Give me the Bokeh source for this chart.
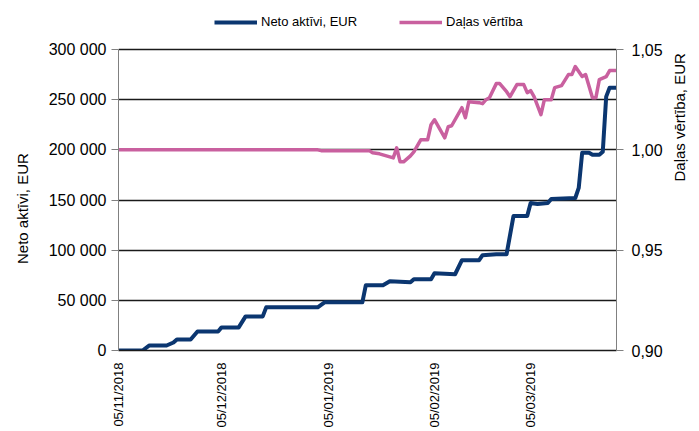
import math
import pandas as pd
from bokeh.plotting import figure
from bokeh.models import (Range1d, LinearAxis, FixedTicker, CustomJSTickFormatter,
                          DatetimeTickFormatter, Legend, LegendItem, ColumnDataSource)
from bokeh.embed import file_html
from bokeh.resources import INLINE

# ---- data ----
nav_dates = ["2018-11-05", "2018-11-12", "2018-11-14", "2018-11-19", "2018-11-21", "2018-11-22",
             "2018-11-26", "2018-11-28", "2018-12-04", "2018-12-05", "2018-12-10", "2018-12-12",
             "2018-12-17", "2018-12-18", "2019-01-02", "2019-01-04", "2019-01-15", "2019-01-16",
             "2019-01-21", "2019-01-23", "2019-01-29", "2019-01-30", "2019-02-04", "2019-02-05",
             "2019-02-11", "2019-02-13", "2019-02-18", "2019-02-19", "2019-02-23", "2019-02-26",
             "2019-02-28", "2019-03-04", "2019-03-05", "2019-03-07", "2019-03-10", "2019-03-11",
             "2019-03-18", "2019-03-19", "2019-03-20", "2019-03-22", "2019-03-23", "2019-03-25",
             "2019-03-26", "2019-03-27", "2019-03-28", "2019-03-30"]
net_assets = [0, 0, 5000, 5000, 8000, 11000,
              11000, 19000, 19000, 23000, 23000, 34000,
              34000, 43000, 43000, 48000, 48000, 65000,
              65000, 69000, 68000, 71000, 71000, 77000,
              76000, 90000, 90000, 95000, 96000, 96000,
              134000, 134000, 147000, 146000, 147000, 151000,
              152000, 162000, 197000, 197000, 195000, 195000,
              198000, 253000, 262000, 262000]

unit_dates = ["2018-11-05", "2019-01-02", "2019-01-03", "2019-01-17", "2019-01-18", "2019-01-20",
              "2019-01-22", "2019-01-24", "2019-01-25", "2019-01-26", "2019-01-27", "2019-01-29",
              "2019-01-30", "2019-02-01", "2019-02-03", "2019-02-04", "2019-02-05", "2019-02-08",
              "2019-02-09", "2019-02-10", "2019-02-13", "2019-02-14", "2019-02-15", "2019-02-18",
              "2019-02-19", "2019-02-20", "2019-02-21", "2019-02-23", "2019-02-24", "2019-02-26",
              "2019-02-27", "2019-03-01", "2019-03-03", "2019-03-04", "2019-03-05", "2019-03-06",
              "2019-03-08", "2019-03-09", "2019-03-11", "2019-03-12", "2019-03-14", "2019-03-16",
              "2019-03-17", "2019-03-18", "2019-03-20", "2019-03-21", "2019-03-23", "2019-03-24",
              "2019-03-25", "2019-03-27", "2019-03-28", "2019-03-30"]
unit_value = [1.000, 1.000, 0.9996, 0.9996, 0.9985, 0.998,
              0.997, 0.996, 1.001, 0.994, 0.994, 0.997,
              0.999, 1.005, 1.005, 1.0125, 1.015, 1.006,
              1.0115, 1.012, 1.021, 1.016, 1.024, 1.0235,
              1.023, 1.025, 1.026, 1.033, 1.033, 1.029,
              1.0265, 1.0325, 1.0325, 1.0285, 1.0295, 1.0265,
              1.0175, 1.025, 1.025, 1.031, 1.032, 1.0375,
              1.0375, 1.0415, 1.0365, 1.0375, 1.026, 1.026,
              1.035, 1.0365, 1.0395, 1.0395]

x_tick_dates = ["2018-11-05", "2018-12-05", "2019-01-05", "2019-02-05", "2019-03-05"]
left_ticks = [0, 50000, 100000, 150000, 200000, 250000, 300000]
right_ticks = [0.90, 0.95, 1.00, 1.05]

series_names = ["Neto aktīvi, EUR", "Daļas vērtība"]
left_title = "Neto aktīvi, EUR"
right_title = "Daļas vērtība, EUR"

# ---- style / layout ----
FONT = "Liberation Sans"
BLUE = "#0B3670"
PINK = "#C9609F"
W, H = 699, 431
TOP = 12           # frame top (legend lives inside the frame's headroom)
AX_TOP = 49        # where the 300 000 / 1,05 line sits
BOTTOM = 350       # frame bottom
head = (BOTTOM - TOP) / (BOTTOM - AX_TOP)   # headroom factor above top tick
NB = "\u00a0"      # trailing no-break spaces shift the left axis title down to the plot's centre

src1 = ColumnDataSource(dict(x=pd.to_datetime(nav_dates), y=net_assets))
src2 = ColumnDataSource(dict(x=pd.to_datetime(unit_dates), y=unit_value))

p = figure(width=W, height=H, x_axis_type="datetime",
           x_range=Range1d(pd.Timestamp("2018-11-05"), pd.Timestamp("2019-03-30")),
           y_range=Range1d(left_ticks[0], left_ticks[0] + (left_ticks[-1] - left_ticks[0]) * head),
           output_backend="svg", toolbar_location=None,
           min_border_left=118, min_border_right=W - 619, min_border_top=TOP,
           min_border_bottom=H - BOTTOM)
p.outline_line_color = None
p.background_fill_color = "white"
p.border_fill_color = "white"
p.extra_y_ranges = {"unit": Range1d(right_ticks[0],
                                    right_ticks[0] + (right_ticks[-1] - right_ticks[0]) * head)}

r1 = p.line("x", "y", source=src1, line_color=BLUE, line_width=4, line_join="round")
r2 = p.line("x", "y", source=src2, y_range_name="unit", line_color=PINK, line_width=3.5,
            line_join="round")

# grid
p.xgrid.grid_line_color = None
p.ygrid.ticker = FixedTicker(ticks=left_ticks)
p.ygrid.grid_line_color = "#1a1a1a"
p.ygrid.grid_line_width = 1.4

# x axis
xa = p.xaxis[0]
xa.ticker = FixedTicker(ticks=[pd.Timestamp(d).value / 1e6 for d in x_tick_dates])
xa.formatter = DatetimeTickFormatter(days="%d/%m/%Y", months="%d/%m/%Y", years="%d/%m/%Y",
                                     hours="%d/%m/%Y", minutes="%d/%m/%Y")
xa.major_label_orientation = math.pi / 2
xa.major_tick_line_color = None
xa.major_tick_out = 0
xa.major_tick_in = 0
xa.minor_tick_line_color = None
xa.minor_tick_out = 0
xa.axis_line_color = "#1a1a1a"
xa.axis_line_width = 1.4
xa.major_label_standoff = 12
xa.major_label_text_font = FONT
xa.major_label_text_font_size = "13px"
xa.major_label_text_color = "black"

# left axis
ya = p.yaxis[0]
ya.ticker = FixedTicker(ticks=left_ticks)
ya.bounds = (left_ticks[0], left_ticks[-1])
ya.formatter = CustomJSTickFormatter(
    code="return tick.toFixed(0).replace(/\\B(?=(\\d{3})+(?!\\d))/g, ' ');")
ya.axis_line_color = "#808080"
ya.major_tick_line_color = "#808080"
ya.major_tick_out = 7
ya.major_tick_in = 0
ya.minor_tick_line_color = None
ya.major_label_standoff = 5
ya.major_label_text_font = FONT
ya.major_label_text_font_size = "16px"
ya.major_label_text_color = "black"
ya.axis_label = left_title + NB * 13
ya.axis_label_text_font = FONT
ya.axis_label_text_font_size = "15px"
ya.axis_label_text_font_style = "normal"
ya.axis_label_text_color = "black"
ya.axis_label_standoff = 15

# right axis
ra = LinearAxis(y_range_name="unit", ticker=FixedTicker(ticks=right_ticks),
                bounds=(right_ticks[0], right_ticks[-1]),
                formatter=CustomJSTickFormatter(code="return tick.toFixed(2).replace('.', ',');"))
ra.axis_line_color = "#808080"
ra.major_tick_line_color = "#808080"
ra.major_tick_out = 7
ra.major_tick_in = 0
ra.minor_tick_line_color = None
ra.major_label_standoff = 8
ra.major_label_text_font = FONT
ra.major_label_text_font_size = "16px"
ra.major_label_text_color = "black"
ra.axis_label = right_title
ra.axis_label_orientation = -3 * math.pi / 2
ra.axis_label_text_font = FONT
ra.axis_label_text_font_size = "15px"
ra.axis_label_text_font_style = "normal"
ra.axis_label_text_color = "black"
ra.axis_label_standoff = 14
p.add_layout(ra, "right")

legend = Legend(items=[LegendItem(label=series_names[0], renderers=[r1]),
                       LegendItem(label=series_names[1], renderers=[r2])],
                orientation="horizontal", location=(96, BOTTOM - 29),
                padding=0, margin=0, spacing=42, glyph_width=43, glyph_height=14,
                label_standoff=4, label_height=14,
                label_text_font=FONT, label_text_font_size="13px", label_text_color="black",
                border_line_color=None, background_fill_alpha=0)
p.add_layout(legend, "center")

open("out.html", "w").write(file_html(p, INLINE))
